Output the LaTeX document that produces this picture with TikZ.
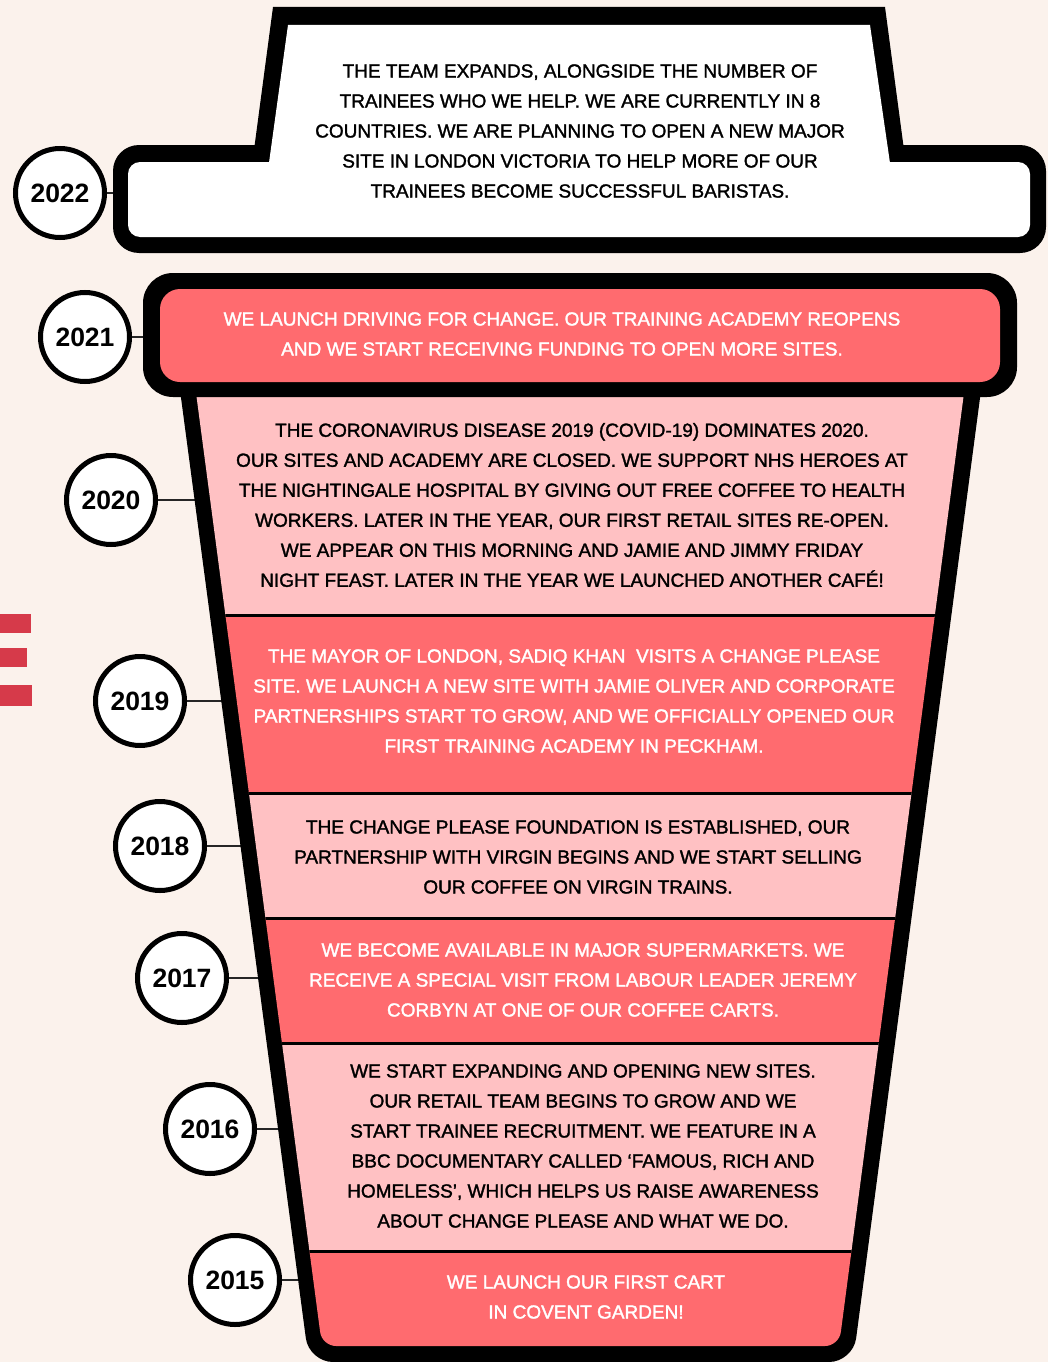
\documentclass[tikz,border=0pt]{standalone}
\usepackage{fontspec}
\setmainfont{Liberation Sans}
\newfontfamily\storyfont{Liberation Sans}[FakeBold=1.6]
\usetikzlibrary{positioning, calc}
\definecolor{cream}{RGB}{251,242,236}
\definecolor{cupred}{RGB}{255,107,111}
\definecolor{cuppink}{RGB}{255,193,195}
\definecolor{stripe}{RGB}{214,58,74}
\pgfdeclarelayer{back}
\pgfsetlayers{back,main}
\tikzset{
  year/.style={circle, draw=black, line width=5, fill=white, minimum size=89,
    inner sep=0, font=\fontsize{26.5}{26}\selectfont\bfseries},
  story/.style={align=center, inner sep=0,
    font=\storyfont\fontsize{19}{30}\selectfont},
  storywhite/.style={story, text=white},
  link/.style={line width=2, draw=black!85},
  divider/.style={line width=3, draw=black}
}

\begin{document}
\begin{tikzpicture}[x=1pt,y=-1pt]

\begin{pgfonlayer}{back}
\fill[cream] (0,0) rectangle (1048,1362);
\end{pgfonlayer}
\useasboundingbox (0,0) rectangle (1048,1362);

% stripes on the left
\fill[stripe] (0,614) rectangle (31,633);
\fill[stripe] (0,648) rectangle (27,667);
\fill[stripe] (0,685) rectangle (32,706);

% lid
\fill[black] (273,7) -- (885,7) -- (906,165) -- (252,165) -- cycle;
\fill[black, rounded corners=26] (113,145) rectangle (1046,253);
\fill[white] (288,25) -- (870,25) -- (891,170) -- (268,170) -- cycle;
\fill[white, rounded corners=12] (128,162) rectangle (1030,237);

% cup body
\fill[black, rounded corners=24] (176,360) -- (985,360) -- (853,1362) -- (309,1362) -- cycle;
\begin{scope}
\clip[rounded corners=14] (193,370) -- (967,370) -- (839,1346) -- (322,1346) -- cycle;
\fill[cuppink] (150,370) rectangle (1000,615);
\fill[cupred]  (150,615) rectangle (1000,793);
\fill[cuppink] (150,793) rectangle (1000,918);
\fill[cupred]  (150,918) rectangle (1000,1043);
\fill[cuppink] (150,1043) rectangle (1000,1251);
\fill[cupred]  (150,1251) rectangle (1000,1362);
\foreach \yy in {615,793,918,1043,1251}
  \draw[divider] (150,\yy) -- (1000,\yy);
\end{scope}

% rim
\fill[black, rounded corners=30] (143,273) rectangle (1017,397);
\fill[cupred, rounded corners=20] (160,289) rectangle (1000,382);

% texts
\node [story] (s2022) at (580,131) {THE TEAM EXPANDS, ALONGSIDE THE NUMBER OF\\
  TRAINEES WHO WE HELP. WE ARE CURRENTLY IN 8\\
  COUNTRIES. WE ARE PLANNING TO OPEN A NEW MAJOR\\
  SITE IN LONDON VICTORIA TO HELP MORE OF OUR\\
  TRAINEES BECOME SUCCESSFUL BARISTAS.};
\node [storywhite] (s2021) at (562,334) {WE LAUNCH DRIVING FOR CHANGE. OUR TRAINING ACADEMY REOPENS\\
  AND WE START RECEIVING FUNDING TO OPEN MORE SITES.};
\node [story] (s2020) at (572,505) {THE CORONAVIRUS DISEASE 2019 (COVID-19) DOMINATES 2020.\\
  OUR SITES AND ACADEMY ARE CLOSED. WE SUPPORT NHS HEROES AT\\
  THE NIGHTINGALE HOSPITAL BY GIVING OUT FREE COFFEE TO HEALTH\\
  WORKERS. LATER IN THE YEAR, OUR FIRST RETAIL SITES RE-OPEN.\\
  WE APPEAR ON THIS MORNING AND JAMIE AND JIMMY FRIDAY\\
  NIGHT FEAST. LATER IN THE YEAR WE LAUNCHED ANOTHER CAFÉ!};
\node [storywhite] (s2019) at (574,701) {THE MAYOR OF LONDON, SADIQ KHAN\ \ VISITS A CHANGE PLEASE\\
  SITE. WE LAUNCH A NEW SITE WITH JAMIE OLIVER AND CORPORATE\\
  PARTNERSHIPS START TO GROW, AND WE OFFICIALLY OPENED OUR\\
  FIRST TRAINING ACADEMY IN PECKHAM.};
\node [story] (s2018) at (578,857) {THE CHANGE PLEASE FOUNDATION IS ESTABLISHED, OUR\\
  PARTNERSHIP WITH VIRGIN BEGINS AND WE START SELLING\\
  OUR COFFEE ON VIRGIN TRAINS.};
\node [storywhite] (s2017) at (583,980) {WE BECOME AVAILABLE IN MAJOR SUPERMARKETS. WE\\
  RECEIVE A SPECIAL VISIT FROM LABOUR LEADER JEREMY\\
  CORBYN AT ONE OF OUR COFFEE CARTS.};
\node [story] (s2016) at (583,1146) {WE START EXPANDING AND OPENING NEW SITES.\\
  OUR RETAIL TEAM BEGINS TO GROW AND WE\\
  START TRAINEE RECRUITMENT. WE FEATURE IN A\\
  BBC DOCUMENTARY CALLED ‘FAMOUS, RICH AND\\
  HOMELESS’, WHICH HELPS US RAISE AWARENESS\\
  ABOUT CHANGE PLEASE AND WHAT WE DO.};
\node [storywhite] (s2015) at (586,1297) {WE LAUNCH OUR FIRST CART\\
  IN COVENT GARDEN!};

% year circles
\node [year] (y2022) at (60,193) {2022};
\node [year] (y2021) at (85,337) {2021};
\node [year] (y2020) at (111,500) {2020};
\node [year] (y2019) at (140,701) {2019};
\node [year] (y2018) at (160,846) {2018};
\node [year] (y2017) at (182,978) {2017};
\node [year] (y2016) at (210,1129) {2016};
\node [year] (y2015) at (235,1280) {2015};

\begin{pgfonlayer}{back}
\foreach \yr in {2022,2021,2020,2019,2018,2017,2016,2015}
  \draw[link] (y\yr.east) -- (y\yr.east -| s\yr.west);
\end{pgfonlayer}

\end{tikzpicture}
\end{document}
